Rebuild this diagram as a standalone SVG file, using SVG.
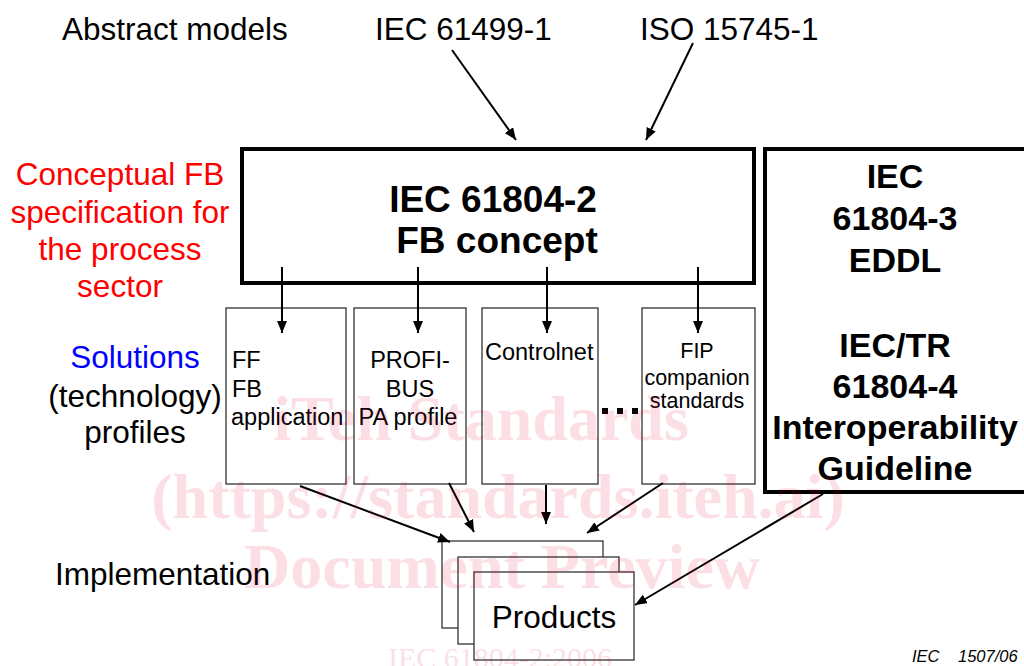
<svg xmlns="http://www.w3.org/2000/svg" width="1024" height="666" viewBox="0 0 1024 666">
<style>
  text { font-family: "Liberation Sans", Arial, sans-serif; fill: #000; }
  .lbl { font-size: 31.5px; }
  .red { fill: #ff0000; }
  .blue { fill: #0000ff; }
  .big { font-size: 37px; font-weight: bold; }
  .rb { font-size: 34px; font-weight: bold; }
  .sm { font-size: 23.5px; }
  .sm2 { font-size: 21.5px; }
  .thick { fill: #fff; stroke: #000; stroke-width: 4; }
  .thin { fill: none; stroke: #333; stroke-width: 1.3; }
  .prod { fill: #fff; stroke: #333; stroke-width: 1.3; }
  .conn line { stroke: #000; stroke-width: 2; marker-end: url(#ah); }
  .wm text { font-family: "Liberation Serif", "Times New Roman", serif; fill: #e00030; opacity: 0.12; font-weight: bold; }
</style>
<defs>
  <marker id="ah" viewBox="0 0 12 10" refX="12" refY="5" markerWidth="12" markerHeight="10" markerUnits="userSpaceOnUse" orient="auto">
    <path d="M0,0 L12,5 L0,10 z" fill="#000"/>
  </marker>
</defs>
<rect width="1024" height="666" fill="#fff"/>

<g id="labels">
  <text class="lbl" x="62" y="40">Abstract models</text>
  <text class="lbl" x="375" y="40">IEC 61499-1</text>
  <text class="lbl" x="640" y="40">ISO 15745-1</text>
  <g class="red" text-anchor="middle">
    <text class="lbl red" x="120" y="185">Conceptual FB</text>
    <text class="lbl red" x="120" y="223">specification for</text>
    <text class="lbl red" x="120" y="260">the process</text>
    <text class="lbl red" x="120" y="297">sector</text>
  </g>
  <text class="lbl blue" x="135" y="368" text-anchor="middle">Solutions</text>
  <text class="lbl" x="135" y="407" text-anchor="middle">(technology)</text>
  <text class="lbl" x="135" y="443" text-anchor="middle">profiles</text>
  <text class="lbl" x="55" y="585">Implementation</text>
  <text x="912" y="662" font-size="16.5" font-style="italic">IEC<tspan x="958">1507/06</tspan></text>
</g>

<g id="fb-concept">
  <rect class="thick" x="242" y="149" width="512" height="134"/>
  <text class="big" x="493" y="212" text-anchor="middle">IEC 61804-2</text>
  <text class="big" x="497" y="253" text-anchor="middle">FB concept</text>
</g>

<g id="eddl">
  <rect class="thick" x="765" y="149" width="272" height="343"/>
  <g text-anchor="middle">
    <text class="rb" x="895" y="188">IEC</text>
    <text class="rb" x="895" y="230">61804-3</text>
    <text class="rb" x="895" y="272">EDDL</text>
    <text class="rb" x="895" y="357">IEC/TR</text>
    <text class="rb" x="895" y="398">61804-4</text>
    <text class="rb" x="895" y="439">Interoperability</text>
    <text class="rb" x="895" y="480">Guideline</text>
  </g>
</g>

<g id="ff">
  <rect class="thin" x="226" y="308" width="120" height="176"/>
  <text class="sm" x="232" y="368">FF</text>
  <text class="sm" x="232" y="397">FB</text>
  <text class="sm" x="231" y="425">application</text>
</g>

<g id="profibus">
  <rect class="thin" x="354" y="308" width="112" height="176"/>
  <text class="sm" x="410" y="368" text-anchor="middle">PROFI-</text>
  <text class="sm" x="410" y="397" text-anchor="middle">BUS</text>
  <text class="sm" x="408" y="425" text-anchor="middle">PA profile</text>
</g>

<g id="controlnet">
  <rect class="thin" x="482" y="308" width="116" height="176"/>
  <text class="sm" x="485" y="360">Controlnet</text>
</g>

<g id="dots">
  <rect x="602" y="408" width="6" height="6" fill="#000"/>
  <rect x="617" y="408" width="6" height="6" fill="#000"/>
  <rect x="632" y="408" width="6" height="6" fill="#000"/>
</g>

<g id="fip">
  <rect class="thin" x="642" y="308" width="113" height="176"/>
  <text class="sm2" x="697" y="358" text-anchor="middle">FIP</text>
  <text class="sm2" x="697" y="385" text-anchor="middle">companion</text>
  <text class="sm2" x="697" y="408" text-anchor="middle">standards</text>
</g>

<g id="products">
  <rect class="prod" x="442" y="541" width="161" height="87"/>
  <rect class="prod" x="458" y="557" width="161" height="87"/>
  <rect class="prod" x="474" y="572" width="160" height="88"/>
  <text class="lbl" x="554" y="628" text-anchor="middle">Products</text>
</g>

<g id="connectors" class="conn">
  <line x1="452" y1="50" x2="516" y2="140"/>
  <line x1="693" y1="43" x2="646" y2="140"/>
  <line x1="282" y1="267" x2="282" y2="333"/>
  <line x1="418" y1="267" x2="418" y2="333"/>
  <line x1="547" y1="267" x2="547" y2="333"/>
  <line x1="698" y1="267" x2="698" y2="333"/>
  <line x1="300" y1="486" x2="450" y2="542"/>
  <line x1="449" y1="483" x2="474" y2="532"/>
  <line x1="546" y1="485" x2="546" y2="524"/>
  <line x1="663" y1="483" x2="587" y2="533"/>
  <line x1="823" y1="494" x2="635" y2="605"/>
</g>

<g class="wm" text-anchor="middle">
  <text x="481" y="440" font-size="64">iTeh Standards</text>
  <text x="498" y="518" font-size="64">(https://standards.iteh.ai)</text>
  <text x="502" y="588" font-size="64">Document Preview</text>
  <text x="500" y="668" font-size="30" style="font-weight:normal">IEC 61804-2:2006</text>
</g>
</svg>
